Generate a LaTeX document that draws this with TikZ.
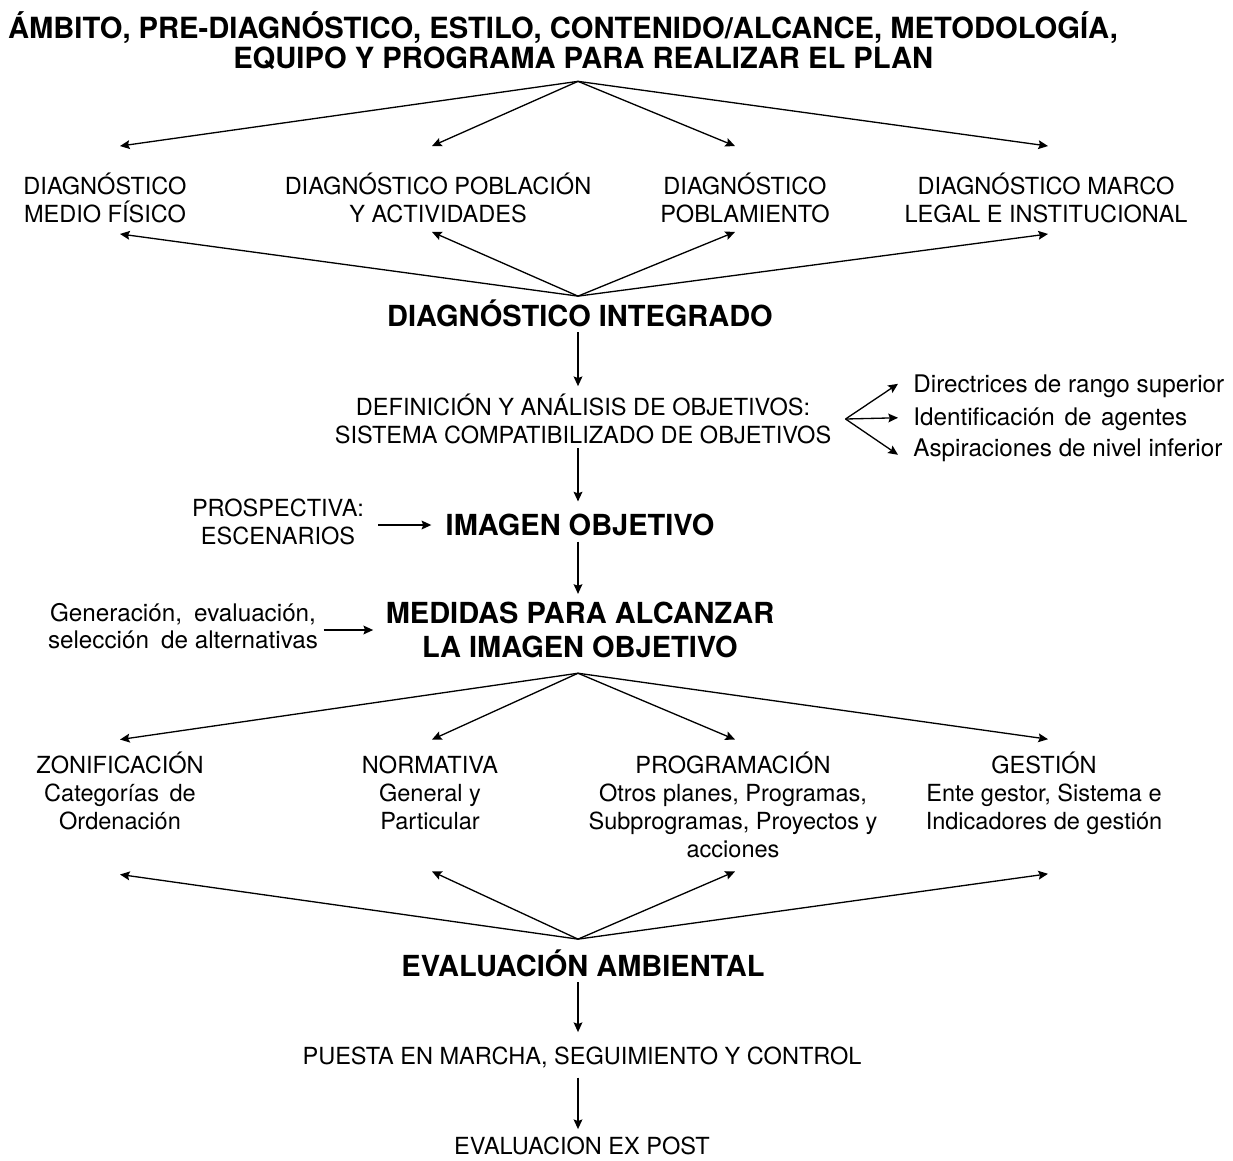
\documentclass[tikz,border=0pt]{standalone}
\usepackage{fontspec}
\setmainfont{TeX Gyre Heros}
\usetikzlibrary{arrows.meta, calc}

\begin{document}
\begin{tikzpicture}[
  x=0.02cm, y=0.02cm,
  lbl/.style={align=center, inner sep=0pt, font=\fontsize{13.4}{15.5}\selectfont},
  sub/.style={align=center, inner sep=0pt, font=\fontsize{13.4}{16}\selectfont},
  hdr/.style={align=center, inner sep=0pt, font=\fontsize{16.5}{19.3}\selectfont\bfseries},
  itm/.style={anchor=base west, inner sep=0pt, font=\fontsize{13.8}{15.5}\selectfont},
  arr/.style={-{Stealth[length=5.5pt, width=5pt, inset=0.9pt]}, line width=0.75pt}
]
  \useasboundingbox (0,0) rectangle (1233,-1160);

  % Title
  \node[hdr, font=\fontsize{16.6}{17}\selectfont\bfseries] (plan) at (563,-41)
    {ÁMBITO, PRE-DIAGNÓSTICO, ESTILO, CONTENIDO/ALCANCE, METODOLOGÍA,\\\hspace*{23pt}EQUIPO Y PROGRAMA PARA REALIZAR EL PLAN};
  \coordinate (plan-s) at ($(plan.south)+(15,-11)$);

  % Partial diagnoses
  \node[lbl] (dmf) at (105,-198) {DIAGNÓSTICO\\MEDIO FÍSICO};
  \node[lbl] (dpa) at (438,-198) {DIAGNÓSTICO POBLACIÓN\\Y ACTIVIDADES};
  \node[lbl] (dpo) at (745,-198) {DIAGNÓSTICO\\POBLAMIENTO};
  \node[lbl] (dml) at (1046,-198) {DIAGNÓSTICO MARCO\\LEGAL E INSTITUCIONAL};

  \draw[arr] (plan-s) -- ($(dmf.north)+(15,27)$);
  \draw[arr] (plan-s) -- ($(dpa.north)+(-6,27)$);
  \draw[arr] (plan-s) -- ($(dpo.north)+(-10,27)$);
  \draw[arr] (plan-s) -- ($(dml.north)+(2,27)$);

  % Integrated diagnosis
  \node[hdr] (di) at (580,-313) {DIAGNÓSTICO INTEGRADO};
  \coordinate (di-n) at ($(di.north)+(-2,3)$);

  \draw[arr] (di-n) -- ($(dmf.south)+(15,-11)$);
  \draw[arr] (di-n) -- ($(dpa.south)+(-6,-9)$);
  \draw[arr] (di-n) -- ($(dpo.south)+(-10,-9)$);
  \draw[arr] (di-n) -- ($(dml.south)+(2,-11)$);

  % Objectives
  \node[lbl] (def) at (583,-419) {DEFINICIÓN Y ANÁLISIS DE OBJETIVOS:\\SISTEMA COMPATIBILIZADO DE OBJETIVOS};
  \draw[arr, shorten <=3pt, shorten >=4.5pt] (di-n |- di.south) -- (di-n |- def.north);

  \coordinate (def-e) at ($(def.east)+(14,0)$);
  \node[itm] (dir) at (913,-392) {Directrices de rango superior};
  \node[itm] (ide) at (913,-425) {Identificación\hspace{0.4em}de\hspace{0.4em}agentes};
  \node[itm] (asp) at (913,-456) {Aspiraciones de nivel inferior};
  \draw[arr] (def-e) -- ($(dir.west)+(-15,2)$);
  \draw[arr] (def-e) -- ($(ide.west)+(-15,1)$);
  \draw[arr] (def-e) -- ($(asp.west)+(-15,-5)$);

  % Image objective
  \node[hdr] (io) at (580,-525) {IMAGEN OBJETIVO};
  \node[lbl] (pro) at (278,-522) {PROSPECTIVA:\\ESCENARIOS};
  \draw[arr, shorten <=2.5pt, shorten >=7pt] (di-n |- def.south) -- (di-n |- io.north);
  \draw[arr, shorten <=8pt, shorten >=8pt] (pro.east |- io.west) -- (io.west);

  % Measures
  \node[hdr] (med) at (580,-630) {MEDIDAS PARA ALCANZAR\\LA IMAGEN OBJETIVO};
  \node[lbl, font=\fontsize{13.8}{15.5}\selectfont] (gen) at (183,-626) {Generación,\hspace{0.5em}evaluación,\\selección\hspace{0.5em}de alternativas};
  \draw[arr, shorten <=3pt, shorten >=4.5pt] (di-n |- io.south) -- (di-n |- med.north);
  \draw[arr, shorten <=3pt, shorten >=7pt] (gen.east |- med.west) -- (med.west);
  \coordinate (med-s) at ($(med.south)+(-2,-15)$);

  % Instruments
  \node[sub] (zon) at (120,-791) {ZONIFICACIÓN\\Categorías\hspace{0.45em}de\\Ordenación};
  \node[sub] (nor) at (430,-793) {NORMATIVA\\General y\\Particular};
  \node[sub] (prg) at (733,-805) {PROGRAMACIÓN\\Otros planes, Programas,\\Subprogramas, Proyectos y\\acciones};
  \node[sub] (ges) at (1044,-793) {GESTIÓN\\Ente gestor, Sistema e\\Indicadores de gestión};

  \draw[arr] (med-s) -- ($(zon.north)+(0,12)$);
  \draw[arr] (med-s) -- ($(nor.north)+(2,16)$);
  \draw[arr] (med-s) -- ($(prg.north)+(2,12)$);
  \draw[arr] (med-s) -- ($(ges.north)+(4,12)$);

  % Environmental assessment
  \node[hdr] (eva) at (583,-963) {EVALUACIÓN AMBIENTAL};
  \coordinate (eva-n) at ($(eva.north)+(-5,10)$);

  \draw[arr] (eva-n) -- ($(zon.south)+(0,-44)$);
  \draw[arr] (eva-n) -- ($(nor.south)+(2,-41)$);
  \draw[arr] (eva-n) -- ($(prg.south)+(2,-13)$);
  \draw[arr] (eva-n) -- ($(ges.south)+(4,-39)$);

  % Follow-up
  \node[lbl] (pue) at (582,-1057) {PUESTA EN MARCHA, SEGUIMIENTO Y CONTROL};
  \node[lbl] (epo) at (582,-1146) {EVALUACION EX POST};
  \draw[arr, shorten <=3pt, shorten >=8pt] (eva-n |- eva.south) -- (eva-n |- pue.north);
  \draw[arr, shorten <=5.5pt, shorten >=4.3pt] (eva-n |- pue.south) -- (eva-n |- epo.north);

\end{tikzpicture}
\end{document}
